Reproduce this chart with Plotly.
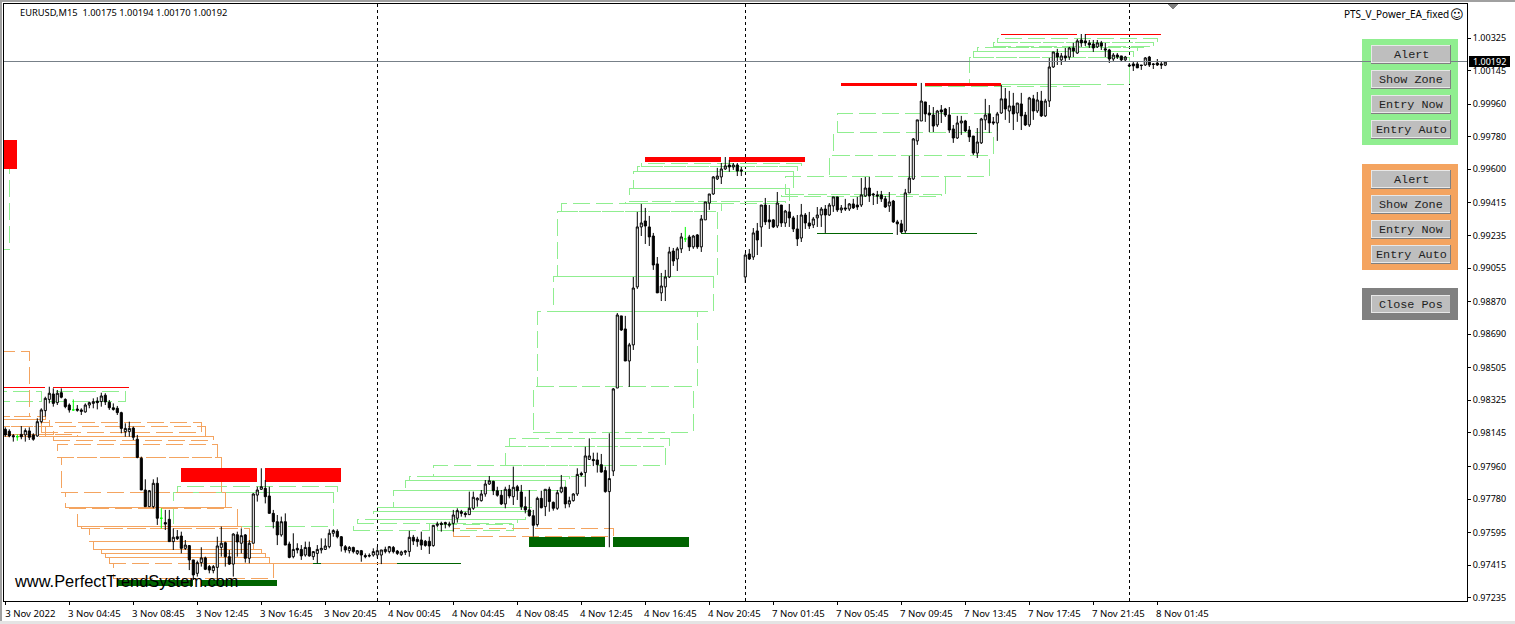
import plotly.graph_objects as go

# Candles: (open, high, low, close) in points (1e-5) above 0.97000, one session block at a time
session_nov3 = [
(1165,1176,1124,1134),(1154,1165,1121,1128),(1130,1139,1097,1124),(1124,1137,1102,1124),(1137,1183,1110,1124),
(1134,1170,1097,1158),(1156,1176,1106,1121),(1134,1143,1102,1110),(1128,1226,1124,1207),(1207,1281,1198,1272),
(1268,1345,1235,1336),(1330,1400,1308,1364),(1360,1391,1290,1308),(1312,1382,1299,1364),(1367,1391,1336,1342),
(1330,1336,1281,1290),(1299,1308,1257,1272),(1272,1330,1268,1272),(1277,1299,1262,1270),(1272,1281,1244,1264),
(1261,1308,1257,1299),(1299,1318,1281,1312),(1308,1336,1281,1318),(1321,1342,1275,1312),(1318,1367,1290,1349),
(1353,1364,1299,1316),(1314,1327,1272,1284),(1284,1308,1268,1275),(1281,1294,1244,1257),(1257,1262,1143,1170),
(1152,1198,1124,1170),(1152,1207,1124,1170),(1172,1180,1106,1121),(1110,1134,1005,1010),(1005,1014,830,830),
(830,889,738,738),(738,830,738,826),(738,889,729,867),(867,900,637,674),(674,729,618,674),
(650,720,609,642),(668,720,545,545),(545,618,499,569),(572,609,554,561),(576,600,480,508),
(508,554,499,526),(523,526,388,444),(444,444,333,361),(370,440,352,429),(429,514,407,455),
(455,462,388,392),(407,416,370,388),(385,416,370,407),(403,572,333,521),(513,628,462,536),
(539,545,407,462),(462,499,416,421),(421,591,352,587),(583,600,462,543),(536,618,480,578),
(582,587,429,453),(453,554,425,536),(536,812,536,808),(802,848,766,830),(834,950,830,848),
(839,885,756,793),(797,848,701,701),(701,720,618,655),(655,692,526,582),(582,683,572,655),
(655,701,526,526),(532,545,453,458),(462,591,453,502),(508,536,480,499),(502,526,444,466),
(471,545,462,513),(513,545,462,466),(462,490,444,490),(480,526,425,502),(499,563,480,508),
(502,563,499,521),(517,613,508,591),(591,613,572,606),(602,613,563,572),(572,576,490,521),
(517,526,484,499),(495,521,480,513),(513,517,480,490),(480,499,471,495),(495,499,434,471),
(468,480,453,462),(469,480,458,466),(471,508,462,490),
]
session_nov4 = [
(471,517,453,495),(471,499,421,499),(490,517,480,502),(490,521,480,517),(513,521,480,490),
(493,499,471,480),(473,495,466,488),(486,499,471,493),(490,605,462,569),(569,582,526,548),
(558,572,517,545),(554,600,499,526),(547,554,517,524),(547,572,477,521),(523,637,517,635),
(635,655,624,642),(646,655,600,639),(650,655,618,642),(635,655,624,642),(646,720,600,692),
(674,729,650,716),(710,720,683,701),(701,710,679,694),(694,821,692,729),(729,821,720,790),
(775,790,738,784),(771,830,766,808),(808,885,793,863),(863,907,858,881),(878,881,802,826),
(826,848,793,801),(801,830,747,753),(753,848,729,834),(834,858,784,797),(793,959,747,845),
(848,858,775,826),(819,858,720,738),(738,793,701,720),(720,830,683,688),(688,720,572,635),
(639,793,628,784),(784,826,729,732),(738,834,686,834),(834,848,710,766),(762,766,716,729),
(729,830,720,815),(819,913,812,845),(845,848,729,753),(753,793,734,771),(771,812,766,808),
(808,950,797,916),(922,931,904,913),(926,1069,848,1018),(999,1115,996,1018),(999,1036,962,992),
(996,1036,926,970),(970,1029,926,929),(937,959,815,821),(821,1143,514,893),(935,1393,907,1388),
(1393,1807,1393,1796),(1791,1791,1708,1713),(1719,1791,1542,1542),(1542,1642,1399,1631),(1631,2006,1603,1945),
(1951,2365,1940,2282),(2282,2409,2232,2304),(2315,2387,2188,2287),(2282,2343,2177,2227),(2232,2249,2045,2072),
(2078,2116,1918,1918),(1918,2028,1873,1956),(1951,2045,1873,2006),(2006,2172,2000,2144),(2149,2166,2067,2094),
(2105,2172,2039,2161),(2161,2249,2138,2227),(2216,2282,2199,2216),(2227,2238,2149,2172),(2172,2238,2161,2232),
(2238,2243,2161,2172),(2172,2348,2144,2326),(2321,2420,2321,2420),(2414,2464,2376,2464),(2464,2563,2459,2558),
(2547,2608,2541,2563),(2558,2635,2519,2602),(2602,2668,2597,2619),(2624,2652,2586,2613),(2613,2635,2597,2624),
(2624,2635,2563,2591),(2597,2613,2563,2591),
]
session_nov7 = [
(2006,2138,1973,2127),(2133,2160,2100,2105),(2116,2276,2100,2249),(2260,2304,2127,2210),(2282,2403,2172,2403),
(2403,2442,2293,2310),(2321,2403,2271,2310),(2321,2326,2276,2282),(2287,2475,2276,2414),(2403,2403,2282,2304),
(2304,2376,2282,2370),(2365,2409,2282,2332),(2332,2343,2254,2271),(2271,2348,2177,2216),(2221,2409,2199,2348),
(2348,2359,2271,2304),(2304,2365,2271,2287),(2293,2337,2276,2326),(2332,2392,2282,2348),(2348,2392,2282,2381),
(2381,2403,2249,2348),(2348,2414,2343,2403),(2398,2448,2365,2448),(2448,2448,2365,2376),(2376,2403,2359,2387),
(2387,2437,2370,2381),(2381,2414,2370,2409),(2409,2437,2381,2387),(2403,2448,2376,2392),(2403,2552,2392,2459),
(2453,2558,2448,2497),(2497,2558,2420,2453),(2464,2470,2403,2459),(2459,2481,2409,2453),(2459,2481,2420,2437),
(2437,2453,2387,2392),(2398,2475,2365,2420),(2425,2431,2304,2310),(2310,2321,2238,2299),(2299,2321,2249,2254),
(2260,2492,2249,2470),(2470,2674,2470,2552),(2547,2773,2541,2768),(2757,2873,2735,2873),(2867,3077,2867,2977),
(2972,2972,2862,2906),(2911,2955,2806,2900),(2900,2944,2806,2839),(2845,2928,2834,2922),(2928,2955,2856,2917),
(2933,2939,2889,2900),(2900,2944,2801,2817),(2823,2845,2746,2773),(2773,2895,2768,2856),(2856,2895,2790,2867),
(2867,2873,2806,2812),(2817,2839,2751,2779),(2784,2784,2679,2690),(2690,2828,2663,2751),(2746,2884,2740,2878),
(2873,2989,2817,2900),(2906,2955,2801,2856),(2862,2889,2845,2856),(2856,2917,2757,2906),(2911,3066,2906,2989),
(2989,3049,2873,2933),(2922,3033,2856,2950),(2950,3022,2817,2906),(2911,2966,2862,2966),(2961,3022,2817,2895),
(2900,2917,2839,2845),(2845,3000,2834,2994),(2989,3011,2873,2922),(2922,3027,2911,2983),(2977,3033,2889,2895),
(2895,2989,2889,2977),(2977,3215,2944,3165),(3165,3248,3160,3248),(3242,3265,3176,3220),(3204,3242,3176,3226),
(3226,3270,3193,3215),(3220,3276,3204,3270),(3270,3298,3220,3253),(3242,3320,3237,3309),(3314,3347,3276,3298),
(3309,3347,3281,3298),(3298,3314,3270,3287),(3292,3314,3248,3270),(3276,3314,3270,3298),(3298,3309,3259,3281),
(3265,3298,3220,3259),(3259,3265,3187,3209),(3209,3242,3198,3231),(3231,3242,3209,3220),(3226,3226,3198,3204),
(3204,3226,3198,3220),
]
session_nov8 = [
(3176,3187,3165,3171),(3182,3193,3143,3171),(3182,3193,3160,3160),(3176,3176,3149,3173),(3176,3220,3171,3215),
(3220,3226,3165,3176),(3182,3187,3154,3179),(3187,3209,3171,3176),(3182,3198,3154,3176),(3175,3194,3170,3192),
]
doji_bars = [3, 17, 39, 170]
separator_bars = [93, 185, 281]

tick_bars = list(range(0, 289, 16))
tick_labels = ["3 Nov 2022","3 Nov 04:45","3 Nov 08:45","3 Nov 12:45","3 Nov 16:45","3 Nov 20:45",
               "4 Nov 00:45","4 Nov 04:45","4 Nov 08:45","4 Nov 12:45","4 Nov 16:45","4 Nov 20:45",
               "7 Nov 01:45","7 Nov 05:45","7 Nov 09:45","7 Nov 13:45","7 Nov 17:45","7 Nov 21:45","8 Nov 01:45"]
price_ticks = [1.00325,1.00145,0.99960,0.99780,0.99600,0.99415,0.99235,0.99055,0.98870,0.98690,
               0.98505,0.98325,0.98145,0.97960,0.97780,0.97595,0.97415,0.97235]
last_price = 1.00192

# Zones: (first bar, last bar, upper price, lower price)
green_zones = [
(-3,1,.99602,.99155),(-3,9,.98371,.98316),(11,30,.98371,.98316),(43,83,.97847,.97814),(42,82,.97814,.97626),
(87,106,.97643,.97604),(88,128,.97665,.97643),(92,130,.97714,.97665),(93,132,.97736,.97714),(108,127,.97637,.97604),
(97,131,.97825,.97736),(100,140,.97885,.97825),(101,141,.97907,.97885),(107,145,.97963,.97907),(125,165,.98068,.97963),
(126,166,.98117,.98068),(132,172,.98399,.98150),(133,173,.98813,.98399),(137,177,.99011,.98813),(138,178,.99365,.99011),
(139,179,.99409,.99365),(155,195,.99420,.99409),(156,196,.99492,.99420),(157,197,.99586,.99492),(158,198,.99613,.99586),
(159,199,.99630,.99613),(194,234,.99459,.99448),(195,235,.99558,.99459),(206,246,.99679,.99558),(207,247,.99806,.99679),
(208,248,.99906,.99806),(230,270,1.00071,1.00060),(241,281,1.00215,1.00066),(242,282,1.00248,1.00215),(243,283,1.00270,1.00248),
(246,286,1.00276,1.00270),(247,287,1.00298,1.00276),(248,288,1.00320,1.00298),
]
orange_zones = [
(-3,6,.98592,.98233),(-3,10,.98233,.98217),(-3,11,.98217,.98178),(-3,12,.98178,.98139),(-3,18,.98139,.98123),
(9,49,.98200,.98145),(10,50,.98178,.98123),(12,52,.98123,.98101),(13,53,.98079,.98007),(14,54,.98007,.97814),
(15,55,.97814,.97731),(16,56,.97731,.97728),(18,58,.97731,.97626),(19,59,.97626,.97615),(21,61,.97615,.97543),
(22,62,.97543,.97499),(24,64,.97499,.97477),(25,65,.97477,.97455),(26,66,.97455,.97422),(27,67,.97422,.97339),
(112,152,.97620,.97571),
]
red_blocks = [
(-3,3,.99762,.99602),(44,63,.97952,.97874),(65,84,.97952,.97874),(160,179,.99668,.99641),(181,200,.99668,.99641),
(209,228,1.00077,1.00060),(230,249,1.00077,1.00060),(249,268,1.00347,1.00339),(270,289,1.00347,1.00339),
(-1,10,.98399,.98395),(12,31,.98399,.98395),
]
darkgreen_blocks = [
(28,47,.97333,.97300),(49,68,.97333,.97300),(131,150,.97571,.97516),(152,171,.97571,.97516),
(203,222,.99249,.99245),(224,243,.99249,.99245),(98,114,.97426,.97422),(77,79,.97426,.97422),
]
orange_lines = [(46,98,.97426,.97422)]

button_groups = [
    ("#90EE90", 39, 145, [("Alert",45),("Show Zone",70),("Entry Now",95),("Entry Auto",120)]),
    ("#F4A460", 164, 270, [("Alert",170),("Show Zone",195),("Entry Now",220),("Entry Auto",245)]),
    ("#808080", 288, 320, [("Close Pos",295)]),
]

# ---- layout geometry
W, H = 1515, 624
L, R, T, B = 4, 1467, 4, 601
PX_PER_BAR = 4.0
X0 = 5.3
PTS_PER_PX = 5.52e-5
def px(x): return (x - L) / (R - L)
def py(y): return 1 - (y - T) / (B - T)
x_range = [(L - X0) / PX_PER_BAR, (R - X0) / PX_PER_BAR]
y_range = [1.00325 - (B - 38) * PTS_PER_PX, 1.00325 - (T - 38) * PTS_PER_PX]

bars = session_nov3 + session_nov4 + session_nov7 + session_nov8
idx = list(range(len(bars)))
def price(v): return 0.97 + v / 1e5
plain = [i for i in idx if i not in doji_bars]

def candle(ids, color, up_fill, down_fill):
    return go.Candlestick(
        x=ids,
        open=[price(bars[i][0]) for i in ids],
        high=[price(bars[i][1]) for i in ids],
        low=[price(bars[i][2]) for i in ids],
        close=[price(bars[i][3]) for i in ids],
        increasing=dict(line=dict(color=color, width=1), fillcolor=up_fill),
        decreasing=dict(line=dict(color=color, width=1), fillcolor=down_fill),
        whiskerwidth=0, showlegend=False, hoverinfo="skip",
    )

fig = go.Figure([candle(plain, "#000000", "#FFFFFF", "#000000"),
                 candle(doji_bars, "#00FF00", "#00FF00", "#00FF00")])

shapes = []
def add_fill(rows, color):
    for a, b, top, bot in rows:
        shapes.append(dict(type="rect", xref="x", yref="y", x0=a, x1=b, y0=bot, y1=top,
                           fillcolor=color, line=dict(width=0), layer="below"))
def add_zone(rows, color):
    for a, b, top, bot in rows:
        shapes.append(dict(type="rect", xref="x", yref="y", x0=a, x1=b, y0=bot, y1=top,
                           line=dict(color=color, width=1, dash="17px,6px"), layer="below"))
add_zone(green_zones, "#90EE90")
add_zone(orange_zones, "#F4A460")
add_fill(orange_lines, "#F4A460")
add_fill(red_blocks, "#FF0000")
add_fill(darkgreen_blocks, "#006400")
for b in separator_bars:
    shapes.append(dict(type="line", xref="x", yref="paper", x0=b, x1=b, y0=0, y1=1,
                       line=dict(color="#000000", width=1, dash="3px,3px"), layer="below"))

def prect(x0, y0, x1, y1, color):
    shapes.append(dict(type="rect", xref="paper", yref="paper", x0=px(x0), x1=px(x1), y0=py(y1), y1=py(y0),
                       fillcolor=color, line=dict(width=0), layer="above"))

annotations = []
def label(x, y, text, size, color="#000000", family="Noto Sans", anchor="left"):
    annotations.append(dict(xref="paper", yref="paper", x=px(x), y=py(y), text=text, showarrow=False,
                            xanchor=anchor, yanchor="middle", xshift=0, borderpad=0,
                            font=dict(size=size, color=color, family=family)))

for color, top, bottom, _ in button_groups:
    prect(1362, top, 1458, bottom, color)
# bid line, nudged under one pixel to sit on the same pixel row as in the terminal
shapes.append(dict(type="line", xref="paper", yref="y", x0=0, x1=1,
                   y0=last_price + 4e-5, y1=last_price + 4e-5,
                   line=dict(color="#778088", width=1), layer="above"))
for color, top, bottom, btns in button_groups:
    for text, y in btns:
        prect(1371, y, 1451, y + 19, "#808080")
        prect(1371, y, 1450, y + 18, "#E8E8E8")
        prect(1372, y + 1, 1450, y + 17, "#BEBEBE")
        label(1411, y + 10, text, 11.8, "#222222", "Liberation Mono", "center")

# outer window edges and the chart-shift marker
prect(0, 0, W, 1.5, "#A0A0A0")
prect(0, 0, 1.5, H, "#A0A0A0")
prect(0, 621, W, H, "#E4E4E4")
shapes.append(dict(type="path", xref="paper", yref="paper",
                   path=f"M {px(1168)} {py(4)} L {px(1178)} {py(4)} L {px(1173)} {py(10)} Z",
                   fillcolor="#808080", line=dict(width=0), layer="above"))
# current price tag
prect(1469, 56, 1510, 67, "#000000")
label(1489.5, 61.5, f"{last_price:.5f}", 9, "#FFFFFF", "Noto Sans", "center")

label(19, 12.5, "EURUSD,M15  1.00175 1.00194 1.00170 1.00192", 9.3)
label(1449.5, 14, "PTS_V_Power_EA_fixed", 10, anchor="right")
label(1456.5, 14, "\u263A", 13, family="DejaVu Sans", anchor="center")
label(13, 581, "www.PerfectTrendSystem.com", 16.4, "#000000", "Liberation Sans")

fig.update_layout(
    width=W, height=H, autosize=False,
    margin=dict(l=L, r=W - R, t=T, b=H - B, pad=0),
    paper_bgcolor="#FFFFFF", plot_bgcolor="#FFFFFF",
    showlegend=False, boxgap=0.25, dragmode=False,
    shapes=shapes, annotations=annotations,
    font=dict(family="Noto Sans", size=9, color="#000000"),
    xaxis=dict(type="linear", range=x_range, rangeslider=dict(visible=False), showgrid=False, zeroline=False,
               tickmode="array", tickvals=tick_bars, ticktext=tick_labels, ticks="outside", ticklen=3,
               tickwidth=1, tickcolor="#000000", showline=True, mirror=True, linecolor="#000000", linewidth=1,
               tickfont=dict(size=9.6, family="Noto Sans"), ticklabelshift=25, tickangle=0),
    yaxis=dict(side="right", range=y_range, showgrid=False, zeroline=False,
               tickmode="array", tickvals=price_ticks, ticktext=[f"{v:.5f}" for v in price_ticks],
               ticks="outside", ticklen=3, tickwidth=1, tickcolor="#000000",
               showline=True, mirror=True, linecolor="#000000", linewidth=1,
               tickfont=dict(size=9, family="Noto Sans")),
)
crisp = ("var s=document.createElement('style');"
         "s.textContent='.shapelayer path{shape-rendering:crispEdges}';"
         "document.head.appendChild(s);"
         "document.body.style.margin='0';document.body.style.overflow='hidden';")
fig.write_html("out.html", config=dict(displayModeBar=False), post_script=crisp)
